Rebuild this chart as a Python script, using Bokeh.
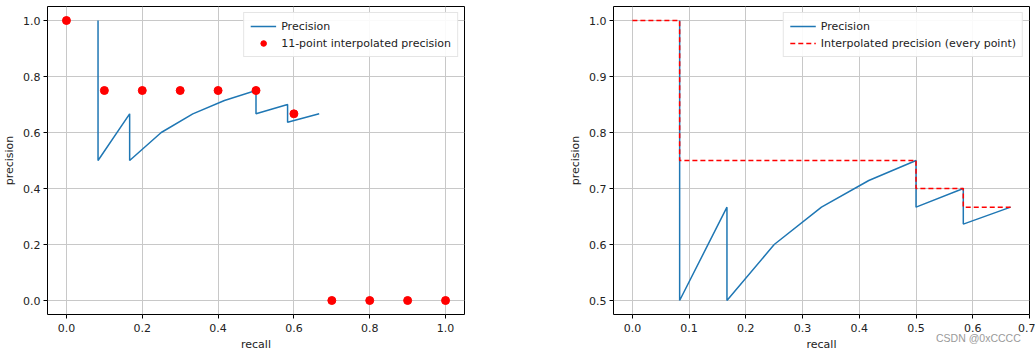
from bokeh.plotting import figure
from bokeh.layouts import row, column
from bokeh.models import FixedTicker, PrintfTickFormatter, Range1d, Div
from bokeh.embed import file_html
from bokeh.resources import INLINE

# Precision / recall curve values
recall = [0.0833, 0.0833, 0.1667, 0.1667, 0.25, 0.3333, 0.4167, 0.5, 0.5, 0.5833, 0.5833, 0.6667]
precision = [1.0, 0.5, 0.6667, 0.5, 0.6, 0.6667, 0.7143, 0.75, 0.6667, 0.7, 0.6364, 0.6667]

# 11-point interpolated precision
recall_11 = [0.0, 0.1, 0.2, 0.3, 0.4, 0.5, 0.6, 0.7, 0.8, 0.9, 1.0]
precision_11 = [1.0, 0.75, 0.75, 0.75, 0.75, 0.75, 0.6667, 0.0, 0.0, 0.0, 0.0]

# every-point interpolated precision (step)
recall_ip = [0.0, 0.0833, 0.0833, 0.5, 0.5, 0.5833, 0.5833, 0.6667]
precision_ip = [1.0, 1.0, 0.75, 0.75, 0.7, 0.7, 0.6667, 0.6667]

left_xticks = [0.0, 0.2, 0.4, 0.6, 0.8, 1.0]
left_yticks = [0.0, 0.2, 0.4, 0.6, 0.8, 1.0]
right_xticks = [0.0, 0.1, 0.2, 0.3, 0.4, 0.5, 0.6, 0.7]
right_yticks = [0.5, 0.6, 0.7, 0.8, 0.9, 1.0]

BLUE = "#1f77b4"
FONT = "DejaVu Sans"


def style(p, xticks, yticks):
    p.outline_line_color = "black"
    p.outline_line_width = 1
    for ax in (p.xaxis[0], p.yaxis[0]):
        ax.axis_line_color = None
        ax.major_tick_line_color = "black"
        ax.major_tick_out = 4
        ax.major_tick_in = 0
        ax.minor_tick_line_color = None
        ax.major_label_text_font = FONT
        ax.major_label_text_font_size = "11px"
        ax.major_label_text_color = "#222222"
        ax.axis_label_text_font = FONT
        ax.axis_label_text_font_size = "11px"
        ax.axis_label_text_font_style = "normal"
        ax.axis_label_text_color = "#222222"
        ax.formatter = PrintfTickFormatter(format="%.1f")
        ax.major_label_standoff = 3
        ax.axis_label_standoff = 4
    p.xaxis[0].major_label_standoff = 5
    p.xaxis[0].axis_label_standoff = 3
    p.xaxis[0].ticker = FixedTicker(ticks=xticks)
    p.yaxis[0].ticker = FixedTicker(ticks=yticks)
    p.xaxis[0].axis_label = "recall"
    p.yaxis[0].axis_label = "precision"
    p.xgrid.grid_line_color = "#c8c8c8"
    p.ygrid.grid_line_color = "#c8c8c8"
    p.xgrid.grid_line_width = 1
    p.ygrid.grid_line_width = 1
    p.background_fill_color = "white"
    p.border_fill_color = "white"


def style_legend(p):
    lg = p.legend[0]
    lg.location = "top_right"
    lg.margin = 6
    lg.padding = 6
    lg.spacing = 3
    lg.label_text_font = FONT
    lg.label_text_font_size = "11px"
    lg.label_text_color = "#222222"
    lg.label_height = 14
    lg.glyph_height = 14
    lg.glyph_width = 26
    lg.border_line_color = "#cccccc"
    lg.background_fill_alpha = 0.9


p1 = figure(width=553, height=353, output_backend="svg", toolbar_location=None,
            x_range=Range1d(-0.05, 1.05), y_range=Range1d(-0.05, 1.05),
            min_border_left=47, min_border_right=89, min_border_top=6, min_border_bottom=37)
p1.line(recall, precision, line_color=BLUE, line_width=1.5, legend_label="Precision")
p1.scatter(recall_11, precision_11, size=8, fill_color="red", line_color="red",
           legend_label="11-point interpolated precision")
style(p1, left_xticks, left_yticks)
style_legend(p1)

p2 = figure(width=482, height=353, output_backend="svg", toolbar_location=None,
            x_range=Range1d(-0.0333, 0.7), y_range=Range1d(0.475, 1.025),
            min_border_left=60, min_border_right=6, min_border_top=6, min_border_bottom=37)
p2.line(recall, precision, line_color=BLUE, line_width=1.5, legend_label="Precision")
p2.line(recall_ip, precision_ip, line_color="red", line_width=1.5, line_dash="5 3",
        legend_label="Interpolated precision (every point)")
style(p2, right_xticks, right_yticks)
style_legend(p2)

watermark = Div(text="CSDN @0xCCCC", margin=0, width=100, height=14,
                styles={"position": "absolute", "left": "936px", "top": "332px",
                        "font-family": "Liberation Sans", "font-size": "10.5px",
                        "color": "#9a9a9a", "z-index": "10", "line-height": "12px"})

layout = column(row(p1, p2), watermark)
open("out.html", "w").write(file_html(layout, INLINE))
